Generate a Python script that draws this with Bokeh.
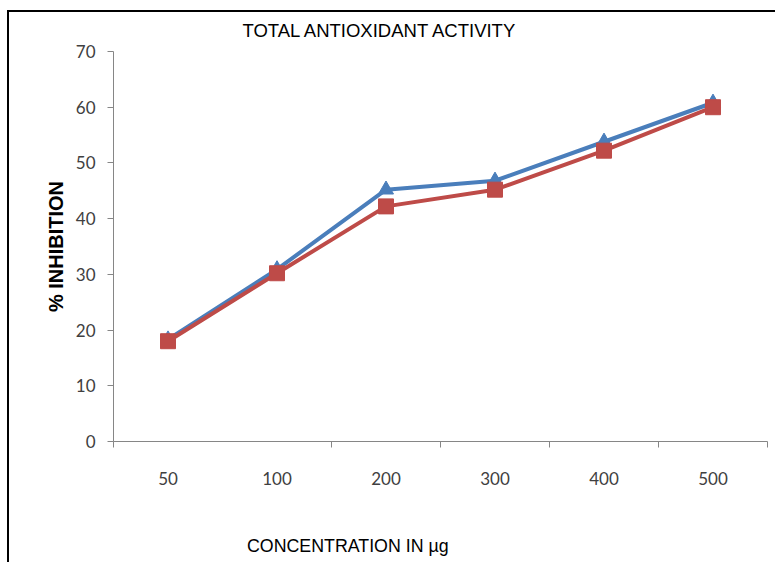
from bokeh.plotting import figure
from bokeh.models import FixedTicker, Range1d, Title, InlineStyleSheet, Div
from bokeh.layouts import column
from bokeh.embed import file_html
from bokeh.resources import INLINE

# Total antioxidant activity: % inhibition at each concentration (µg)
concentrations = ["50", "100", "200", "300", "400", "500"]
inhibition_a = [18.3, 30.9, 45.2, 46.8, 53.8, 60.8]   # blue series, triangles
inhibition_b = [18.0, 30.2, 42.2, 45.2, 52.2, 60.0]   # red series, squares
y_ticks = [0, 10, 20, 30, 40, 50, 60, 70]

# categories sit in the middle of unit-wide slots
xs = [i + 0.5 for i in range(len(concentrations))]

BLUE = "#4a7ebb"
RED = "#be4b48"
AXIS = "#868686"
CAPTION_FONT = "Liberation Sans"

# thin black page frame along the top and left edges
frame_css = InlineStyleSheet(css="""
:host { position: relative; }
:host::after {
  content: "";
  position: absolute;
  left: 7px; top: 10px; right: -20px; bottom: -20px;
  border-left: 2px solid #000;
  border-top: 2px solid #000;
  pointer-events: none;
  z-index: 5;
}
""")

p = figure(width=775, height=530, output_backend="svg", toolbar_location=None,
           x_range=Range1d(0, len(concentrations)), y_range=Range1d(0, 70),
           min_border_left=113, min_border_right=8,
           min_border_top=51, min_border_bottom=89, margin=0)

p.outline_line_color = None
p.xgrid.visible = False
p.ygrid.visible = False
p.background_fill_color = "white"
p.border_fill_color = "white"

# x axis: labels at slot centres, tick marks on slot boundaries
xa = p.xaxis[0]
xa.ticker = FixedTicker(ticks=xs, minor_ticks=[0, 2, 3, 4, 5, 6])
xa.major_label_overrides = {x: c for x, c in zip(xs, concentrations)}
xa.major_tick_in = 0
xa.major_tick_out = 0
xa.minor_tick_in = 0
xa.minor_tick_out = 6
xa.minor_tick_line_color = AXIS
xa.axis_line_color = AXIS
xa.major_label_text_font = "Lato"
xa.major_label_text_font_size = "17px"
xa.major_label_text_color = "#404040"
xa.major_label_standoff = 24

ya = p.yaxis[0]
ya.ticker = FixedTicker(ticks=y_ticks)
ya.major_tick_in = 0
ya.major_tick_out = 6
ya.major_tick_line_color = AXIS
ya.minor_tick_line_color = None
ya.axis_line_color = AXIS
ya.major_label_text_font = "Lato"
ya.major_label_text_font_size = "17px"
ya.major_label_text_color = "#404040"
ya.major_label_standoff = 12
ya.axis_label = "% INHIBITION"
ya.axis_label_text_font = "Liberation Sans"
ya.axis_label_text_font_style = "bold"
ya.axis_label_text_font_size = "20px"
ya.axis_label_text_color = "#000000"
ya.axis_label_standoff = 6

# series
p.line(xs, inhibition_a, line_color=BLUE, line_width=4)
p.scatter(xs, inhibition_a, marker="triangle", size=15,
          fill_color=BLUE, line_color=BLUE)
p.line(xs, inhibition_b, line_color=RED, line_width=4)
p.scatter(xs, inhibition_b, marker="square", size=15,
          fill_color=RED, line_color=RED)

# title, left-aligned with an offset from the plot area
p.add_layout(Title(text="TOTAL ANTIOXIDANT ACTIVITY", align="left", offset=129,
                   text_font=CAPTION_FONT, text_font_size="18.5px",
                   text_font_style="normal", text_color="#000000",
                   standoff=22), "above")

# x-axis caption in a strip under the plot
caption = Div(text="CONCENTRATION IN µg", width=775, height=32, margin=0,
              styles={"padding-left": "247px", "padding-top": "6px",
                      "box-sizing": "border-box",
                      "font-family": "'Liberation Sans', sans-serif",
                      "font-size": "17.8px", "line-height": "20px",
                      "color": "#000000", "background": "white"})

page = column(p, caption, spacing=0, margin=0, stylesheets=[frame_css])

open("out.html", "w").write(file_html(page, INLINE))
